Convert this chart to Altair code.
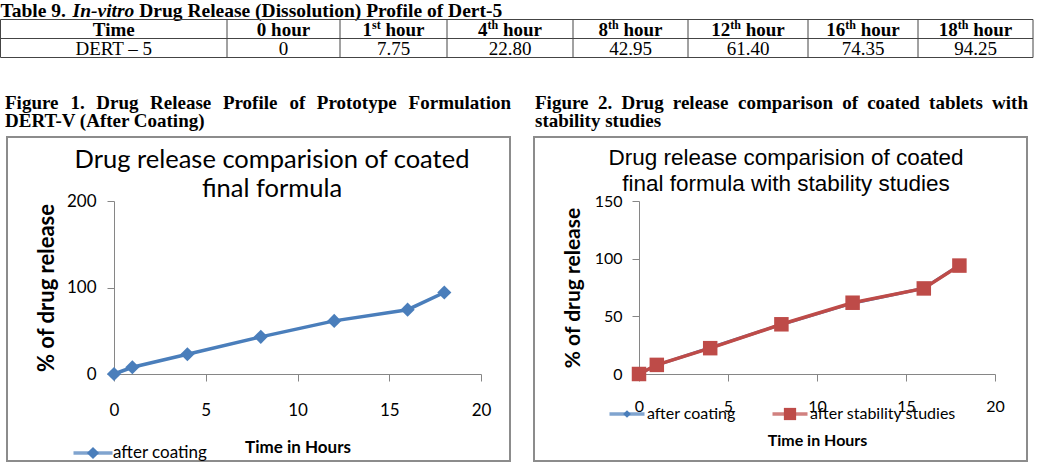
import altair as alt
import pandas as pd

# ---------------- data ----------------
hours = [0, 1, 4, 8, 12, 16, 18]
after_coating = [0, 7.75, 22.80, 42.95, 61.40, 74.35, 94.25]
after_stability = [0, 7.9, 22.4, 43.1, 61.8, 74.2, 94.0]
series_names = ["after coating", "after stability studies"]

table_title = ["Table 9.", "In-vitro", "Drug Release (Dissolution) Profile of Dert-5"]
table_first_head = "Time"
table_heads = ["0 hour", "1st hour", "4th hour", "8th hour", "12th hour", "16th hour", "18th hour"]
table_row_label = "DERT \u2013 5"
table_values = ["0", "7.75", "22.80", "42.95", "61.40", "74.35", "94.25"]

caption1 = ["Figure 1. Drug Release Profile of Prototype Formulation", "DERT-V (After Coating)"]
caption2 = ["Figure 2. Drug release comparison of coated tablets with", "stability studies"]
title1 = ["Drug release comparision of coated", "final formula"]
title2 = ["Drug release comparision of coated", "final formula with stability studies"]
x_title = "Time in Hours"
y_title = "% of drug release"
x_ticks = [0, 5, 10, 15, 20]
y_ticks_1 = [0, 100, 200]
y_ticks_2 = [0, 50, 100, 150]

# ---------------- style / layout ----------------
W, H = 1038, 464
SERIF = "Liberation Serif"
SANS = "Lato"
ARIAL = "Liberation Sans"
BLUE = "#4A7EBB"
RED = "#BE4B48"
BORDER = "#8C8C8C"
AXIS_GRAY = "#868686"
TABLE_LINE = "#444444"

TB = {' ': 250, '.': 250, '-': 333, '(': 333, ')': 333, '\u2013': 500}
for d in "0123456789":
    TB[d] = 500
TB.update(dict(A=722, B=667, C=722, D=722, E=667, F=611, G=778, H=778, I=389, J=500, K=778, L=667,
               M=944, N=722, O=778, P=611, Q=778, R=722, S=556, T=667, U=722, V=722, W=1000, X=722,
               Y=722, Z=667, a=500, b=556, c=444, d=556, e=444, f=333, g=500, h=556, i=278, j=333,
               k=556, l=278, m=833, n=556, o=500, p=556, q=556, r=444, s=389, t=333, u=556, v=500,
               w=722, x=500, y=500, z=444))
TBI = dict(TB)
TBI.update({'I': 389, 'n': 556, '-': 333, 'v': 444, 'i': 278, 't': 278, 'r': 389, 'o': 500})


def tw(s, size, table=TB):
    return sum(table.get(c, 500) for c in s) * size / 1000.0


dummy = pd.DataFrame({"k": [0]})


def txt(s, x, y, size, weight="normal", style="normal", align="left", font=SERIF,
        color="black", angle=0, baseline="middle"):
    return alt.Chart(dummy).mark_text(
        text=s, font=font, fontSize=size, fontWeight=weight, fontStyle=style,
        align=align, baseline=baseline, color=color, angle=angle
    ).encode(x=alt.value(x), y=alt.value(y))


def hline(x1, x2, y, color=TABLE_LINE, w=1):
    return alt.Chart(dummy).mark_rule(color=color, strokeWidth=w).encode(
        x=alt.value(x1), x2=alt.value(x2), y=alt.value(y))


def vline(x, y1, y2, color=TABLE_LINE, w=1):
    return alt.Chart(dummy).mark_rule(color=color, strokeWidth=w).encode(
        x=alt.value(x), y=alt.value(y1), y2=alt.value(y2))


def box(x1, x2, y1, y2):
    return alt.Chart(dummy).mark_rect(fill="white", fillOpacity=0, stroke=BORDER, strokeWidth=2).encode(
        x=alt.value(x1), x2=alt.value(x2), y=alt.value(y1), y2=alt.value(y2))


layers = []

# ---------------- table ----------------
FS_T = 19.5
TITLE_Y = 10.5
tx = 0.5
layers.append(txt(table_title[0], tx, TITLE_Y, FS_T, weight="bold"))
tx += tw(table_title[0] + " ", FS_T)
layers.append(txt(table_title[1], tx, TITLE_Y, FS_T, weight="bold", style="italic"))
tx += tw(table_title[1], FS_T, TBI) + tw(" ", FS_T)
layers.append(txt(table_title[2], tx, TITLE_Y, FS_T, weight="bold"))

EDGES = [0.5, 227, 340, 447, 573, 688, 808, 918, 1033]
ROW_Y = [19.5, 38.5, 57.5]
for yy in ROW_Y:
    layers.append(hline(EDGES[0], EDGES[-1], yy))
for xx in EDGES:
    layers.append(vline(xx, ROW_Y[0], ROW_Y[-1]))
centers = [(EDGES[i] + EDGES[i + 1]) / 2 for i in range(len(EDGES) - 1)]

FS_H = 19
SUP = 12
HEAD_Y = 29.5
VAL_Y = 48.5
layers.append(txt(table_first_head, centers[0], HEAD_Y, FS_H, weight="bold", align="center"))
for c, head in zip(centers[1:], table_heads):
    first, rest = head.split(" ", 1)
    num = "".join(ch for ch in first if ch.isdigit())
    sup = first[len(num):]
    if not sup:
        layers.append(txt(head, c, HEAD_Y, FS_H, weight="bold", align="center"))
        continue
    wn = tw(num, FS_H)
    ws = tw(sup, SUP)
    wr = tw(" " + rest, FS_H)
    x0 = c - (wn + ws + wr) / 2
    layers.append(txt(num, x0, HEAD_Y, FS_H, weight="bold"))
    layers.append(txt(sup, x0 + wn, HEAD_Y - 5, SUP, weight="bold"))
    layers.append(txt(rest, x0 + wn + ws + tw(" ", FS_H), HEAD_Y, FS_H, weight="bold"))

layers.append(txt(table_row_label, centers[0], VAL_Y, FS_H, align="center"))
for c, v in zip(centers[1:], table_values):
    layers.append(txt(v, c, VAL_Y, FS_H, align="center"))

# ---------------- captions ----------------
FS_C = 19


def justified(line, left, right, y, size):
    words = line.split(" ")
    widths = [tw(w, size) for w in words]
    gap = (right - left - sum(widths)) / (len(words) - 1)
    out = []
    x = left
    for w, wd in zip(words, widths):
        out.append(txt(w, x, y, size, weight="bold"))
        x += wd + gap
    return out


layers += justified(caption1[0], 5, 511, 102.5, FS_C)
layers.append(txt(caption1[1], 5, 121, FS_C, weight="bold"))
layers += justified(caption2[0], 535, 1028, 102.5, FS_C)
layers.append(txt(caption2[1], 535, 121, FS_C, weight="bold"))

# ---------------- chart boxes ----------------
layers.append(box(7, 510, 137, 461))
layers.append(box(534, 1027, 137, 461))

# ---------------- chart 1 ----------------
X1 = (114, 481)
Y0 = 374
YTOP = 201

layers.append(txt(title1[0], 272, 160, 25.5, font=SANS, align="center"))
layers.append(txt(title1[1], 272, 189, 25.5, font=SANS, align="center"))

df1 = pd.DataFrame({"hours": hours, "release": after_coating})
sx1 = alt.Scale(domain=[0, 20], range=list(X1), nice=False, zero=False)
sy1 = alt.Scale(domain=[0, 200], range=[Y0, YTOP], nice=False)
ax1x = alt.Axis(values=x_ticks, orient="bottom", offset=-(H - Y0), grid=False,
                domainColor=AXIS_GRAY, tickColor=AXIS_GRAY, tickSize=7,
                labelFont=SANS, labelFontSize=17, labelColor="black", labelPadding=21,
                labelFlush=False, labelOverlap=False,
                title=x_title, titleFont=SANS, titleFontSize=17, titleFontWeight="bold",
                titleColor="black", titleY=73, titleBaseline="middle")
ax1y = alt.Axis(values=y_ticks_1, orient="left", offset=-X1[0], grid=False,
                domainColor=AXIS_GRAY, tickColor=AXIS_GRAY, tickSize=7,
                labelFont=SANS, labelFontSize=17, labelColor="black", labelPadding=11,
                labelBaseline="middle", labelFlush=False, labelOverlap=False,
                title=y_title, titleFont=SANS, titleFontSize=22, titleFontWeight="bold",
                titleColor="black", titleX=-68, titleBaseline="middle")
c1_line = alt.Chart(df1).mark_line(color=BLUE, strokeWidth=3.5).encode(
    x=alt.X("hours:Q", scale=sx1, axis=ax1x), y=alt.Y("release:Q", scale=sy1, axis=ax1y))
c1_pts = alt.Chart(df1).mark_point(shape="diamond", filled=True, size=200, color=BLUE, opacity=1).encode(
    x=alt.X("hours:Q", scale=sx1, axis=None), y=alt.Y("release:Q", scale=sy1, axis=None))
layers += [c1_line, c1_pts]

# legend 1 (single series)
leg1 = pd.DataFrame({"series": series_names[:1]})
lx1 = alt.X("series:N", scale=alt.Scale(type="point", domain=series_names[:1], range=[93, 93], padding=0), axis=None)
lc1 = alt.Color("series:N", scale=alt.Scale(domain=series_names[:1], range=[BLUE]), legend=None)
layers.append(alt.Chart(leg1).mark_tick(orient="horizontal", size=39, thickness=3.5).encode(
    x=lx1, y=alt.value(453), color=lc1))
layers.append(alt.Chart(leg1).mark_point(shape="diamond", filled=True, size=150, opacity=1).encode(
    x=lx1, y=alt.value(453), color=lc1))
layers.append(alt.Chart(leg1).mark_text(align="left", dx=20, font=SANS, fontSize=17, baseline="middle",
                                        color="black").encode(x=lx1, y=alt.value(453), text="series:N"))

# ---------------- chart 2 ----------------
X2 = (639, 995)
layers.append(txt(title2[0], 786, 158, 22.5, font=ARIAL, align="center"))
layers.append(txt(title2[1], 786, 184, 22.5, font=ARIAL, align="center"))

df2a = pd.DataFrame({"hours": hours, "release": after_coating})
df2b = pd.DataFrame({"hours": hours, "release": after_stability})
sx2 = alt.Scale(domain=[0, 20], range=list(X2), nice=False, zero=False)
sy2 = alt.Scale(domain=[0, 150], range=[Y0, YTOP], nice=False)
ax2x = alt.Axis(values=x_ticks, orient="bottom", offset=-(H - Y0), grid=False,
                domainColor=AXIS_GRAY, tickColor=AXIS_GRAY, tickSize=7,
                labelFont=SANS, labelFontSize=16, labelColor="black", labelPadding=17,
                labelFlush=False, labelOverlap=False,
                title=x_title, titleFont=SANS, titleFontSize=16, titleFontWeight="bold",
                titleColor="black", titleY=66, titleBaseline="middle")
ax2y = alt.Axis(values=y_ticks_2, orient="left", offset=-X2[0], grid=False,
                domainColor=AXIS_GRAY, tickColor=AXIS_GRAY, tickSize=7,
                labelFont=SANS, labelFontSize=16, labelColor="black", labelPadding=10,
                labelBaseline="middle", labelFlush=False, labelOverlap=False,
                title=y_title, titleFont=SANS, titleFontSize=21, titleFontWeight="bold",
                titleColor="black", titleX=-66, titleBaseline="middle")
c2a_line = alt.Chart(df2a).mark_line(color=BLUE, strokeWidth=3).encode(
    x=alt.X("hours:Q", scale=sx2, axis=ax2x), y=alt.Y("release:Q", scale=sy2, axis=ax2y))
c2a_pts = alt.Chart(df2a).mark_point(shape="diamond", filled=True, size=70, color=BLUE, opacity=1).encode(
    x=alt.X("hours:Q", scale=sx2, axis=None), y=alt.Y("release:Q", scale=sy2, axis=None))
c2b_line = alt.Chart(df2b).mark_line(color=RED, strokeWidth=3.5).encode(
    x=alt.X("hours:Q", scale=sx2, axis=None), y=alt.Y("release:Q", scale=sy2, axis=None))
c2b_pts = alt.Chart(df2b).mark_point(shape="square", filled=True, size=210, color=RED, opacity=1).encode(
    x=alt.X("hours:Q", scale=sx2, axis=None), y=alt.Y("release:Q", scale=sy2, axis=None))
layers += [c2a_line, c2a_pts, c2b_line, c2b_pts]

# legend 2
leg2 = pd.DataFrame({"series": series_names})
lx2 = alt.X("series:N", scale=alt.Scale(type="point", domain=series_names, range=[627, 790], padding=0), axis=None)
lc2 = alt.Color("series:N", scale=alt.Scale(domain=series_names, range=[BLUE, RED]), legend=None)
ls2 = alt.Shape("series:N", scale=alt.Scale(domain=series_names, range=["diamond", "square"]), legend=None)
lz2 = alt.Size("series:O", scale=alt.Scale(domain=series_names, range=[60, 150]), legend=None)
layers.append(alt.Chart(leg2).mark_tick(orient="horizontal", size=35, thickness=3.5).encode(
    x=lx2, y=alt.value(414), color=lc2))
layers.append(alt.Chart(leg2).mark_point(filled=True, opacity=1).encode(
    x=lx2, y=alt.value(414), color=lc2, shape=ls2, size=lz2))
layers.append(alt.Chart(leg2).mark_text(align="left", dx=20, font=SANS, fontSize=16, baseline="middle",
                                        color="black").encode(x=lx2, y=alt.value(414), text="series:N"))

chart = alt.layer(*layers).resolve_scale(
    x="independent", y="independent", color="independent", shape="independent", size="independent"
).properties(
    width=W, height=H, padding=0, background="white",
    autosize=alt.AutoSizeParams(type="none")
).configure_view(stroke=None)

chart.save("out.html", embed_options={"renderer": "svg", "actions": False})
